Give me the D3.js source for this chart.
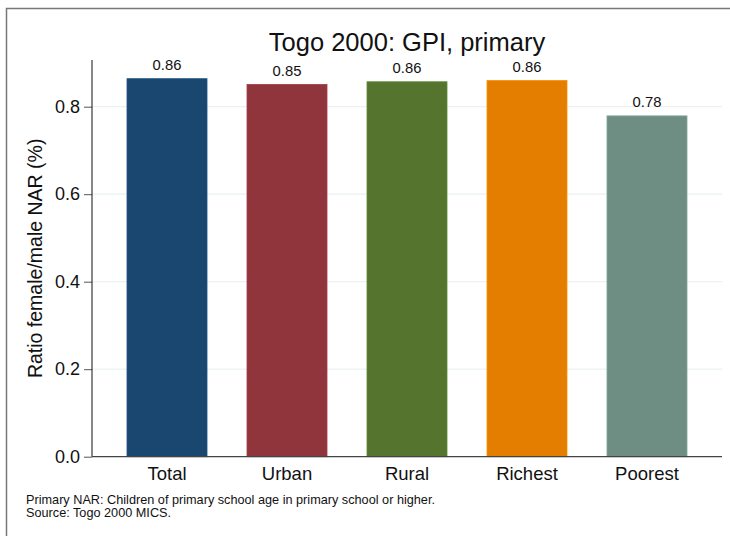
<!DOCTYPE html>
<html><head><meta charset="utf-8">
<script src="https://cdn.jsdelivr.net/npm/d3@7"></script>
<style>
html,body{margin:0;padding:0;background:#fff;}
svg{display:block;font-family:"Liberation Sans",Arial,Helvetica,sans-serif;}
</style></head>
<body>
<div id="chart"></div>
<script>
const categories = ["Total", "Urban", "Rural", "Richest", "Poorest"];
const values = [0.864, 0.851, 0.857, 0.860, 0.779];
const valueLabels = ["0.86", "0.85", "0.86", "0.86", "0.78"];
const colors = ["#1a476f", "#90353b", "#55752f", "#e37e00", "#6e8e84"];
const yTicks = [0, 0.2, 0.4, 0.6, 0.8];
const titleText = "Togo 2000: GPI, primary";
const yTitle = "Ratio female/male NAR (%)";
const notes = ["Primary NAR: Children of primary school age in primary school or higher.", "Source: Togo 2000 MICS."];

const W = 730, H = 536;
const svg = d3.select("#chart").append("svg").attr("width", W).attr("height", H);

// outer frame
svg.append("rect").attr("x", 6.5).attr("y", 8.5).attr("width", W + 20).attr("height", H + 20)
  .attr("fill", "#fff").attr("stroke", "#777").attr("stroke-width", 1.5);

const pLeft = 92, pRight = 722, pTop = 60, pBottom = 456.7;
const y = d3.scaleLinear().domain([0, 0.8]).range([pBottom, pBottom - 0.8 * 437.5]);
const x = d3.scaleBand().domain(categories).range([pLeft, pRight]).paddingInner(1/3).paddingOuter(0.2917);

// gridlines
svg.append("g").selectAll("line").data(yTicks.filter(d => d > 0)).join("line")
  .attr("x1", pLeft).attr("x2", pRight).attr("y1", d => y(d)).attr("y2", d => y(d))
  .attr("stroke", "#eaf2f3").attr("stroke-width", 1.2);

// bars
svg.append("g").selectAll("rect").data(values).join("rect")
  .attr("x", (d, i) => x(categories[i]))
  .attr("width", x.bandwidth())
  .attr("y", d => y(d))
  .attr("height", d => y(0) - y(d))
  .attr("fill", (d, i) => colors[i])
  .attr("stroke", (d, i) => d3.color(colors[i]).brighter(0.4))
  .attr("stroke-width", 0.8);

// value labels
svg.append("g").selectAll("text").data(values).join("text")
  .attr("x", (d, i) => x(categories[i]) + x.bandwidth() / 2)
  .attr("y", d => y(d) - 8.5)
  .attr("text-anchor", "middle").attr("font-size", 14.8).attr("fill", "#111")
  .text((d, i) => valueLabels[i]);

// y axis
const yAxis = d3.axisLeft(y).tickValues(yTicks).tickFormat(d3.format(".1f")).tickSize(8).tickPadding(4);
const gy = svg.append("g").attr("transform", `translate(${pLeft},0)`).call(yAxis);
gy.select(".domain").remove();
gy.selectAll(".tick line").attr("stroke", "#555");
gy.selectAll(".tick text").attr("font-size", 18).attr("fill", "#111").attr("font-family", "Liberation Sans, Arial, sans-serif");
svg.append("line").attr("x1", pLeft).attr("x2", pLeft).attr("y1", pTop).attr("y2", pBottom)
  .attr("stroke", "#111").attr("stroke-width", 1);

// x axis
const xAxis = d3.axisBottom(x).tickSize(0).tickPadding(10.5);
const gx = svg.append("g").attr("transform", `translate(0,${pBottom})`).call(xAxis);
gx.select(".domain").remove();
gx.selectAll(".tick text").attr("font-size", 18.5).attr("fill", "#111").attr("font-family", "Liberation Sans, Arial, sans-serif");
svg.append("line").attr("x1", pLeft).attr("x2", pRight).attr("y1", pBottom).attr("y2", pBottom)
  .attr("stroke", "#444").attr("stroke-width", 1.2);

// title
svg.append("text").attr("x", (pLeft + pRight) / 2).attr("y", 51).attr("text-anchor", "middle")
  .attr("font-size", 25.5).attr("fill", "#111").text(titleText);

// y title
svg.append("text").attr("transform", `translate(42,${(pTop + pBottom) / 2}) rotate(-90)`)
  .attr("text-anchor", "middle").attr("font-size", 19.5).attr("fill", "#111").text(yTitle);

// notes
svg.append("g").selectAll("text").data(notes).join("text")
  .attr("x", 26).attr("y", (d, i) => 504 + i * 12.7)
  .attr("font-size", 12.7).attr("fill", "#111").text(d => d);
</script>
</body></html>
